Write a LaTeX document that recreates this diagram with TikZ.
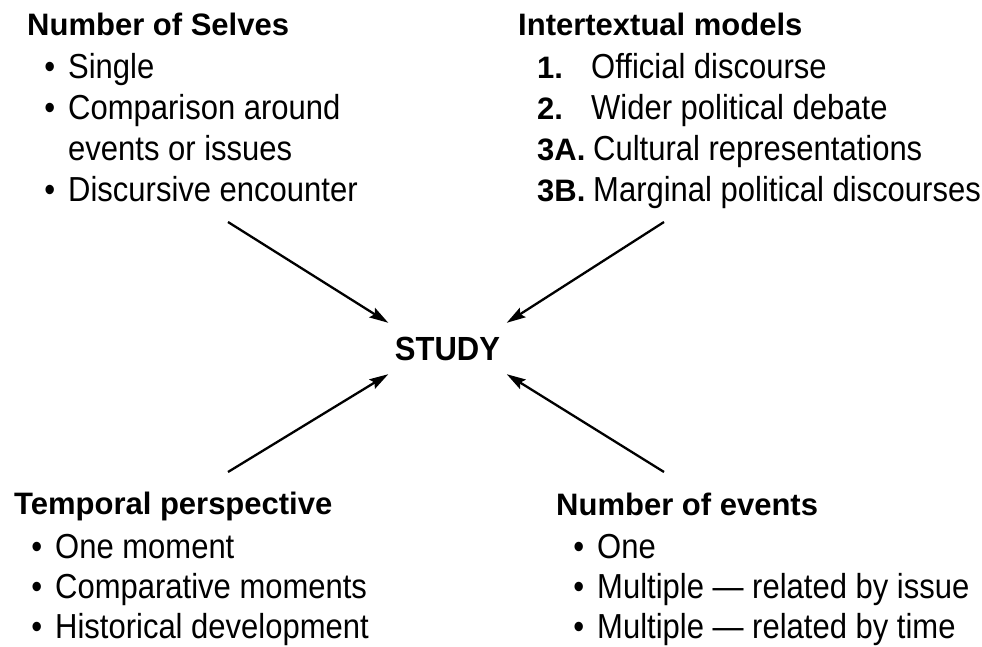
\documentclass[tikz,border=0pt]{standalone}
\usepackage{fontspec}
\usepackage{graphicx}
\setmainfont{Liberation Sans}
\usetikzlibrary{arrows.meta}
% bullet hung to the left of an item's first letter
\newcommand{\itembullet}{\llap{•\hspace{13pt}}}
% item text is set slightly taller than wide
\newcommand{\tallt}[1]{\scalebox{1}[1.12]{#1}}
\begin{document}
\begin{tikzpicture}[x=1pt,y=-1pt,
  line/.style={inner sep=0pt, anchor=base west},
  head/.style={line, font=\fontsize{31}{37}\selectfont\bfseries},
  entry/.style={line, font=\fontsize{31}{37}\selectfont},
  feed/.style={line width=2.3pt, -{Stealth[length=19pt,width=11pt,inset=3pt]}},
]
\useasboundingbox (0,0) rectangle (982,647);

% centre
\node[font=\fontsize{31}{37}\selectfont\bfseries, inner sep=0pt,
      minimum width=118pt, minimum height=51pt, text depth=0pt]
      (study) at (447.5,348.5) {\scalebox{1}[1.08]{STUDY}};

% top left: number of selves
\node[head]  (selves)  at (27,36)  {Number of Selves};
\node[entry] (selves1) at (68,79)  {\tallt{\itembullet Single}};
\node[entry] (selves2) at (68,120) {\tallt{\itembullet Comparison around}};
\node[entry] (selves3) at (68,161) {\tallt{events or issues}};
\node[entry] (selves4) at (68,202) {\tallt{\itembullet Discursive encounter}};

% top right: intertextual models
\node[head]  (models)  at (518,36) {Intertextual models};
\node[head]  (m1n) at (537,79)  {1.};
\node[entry] (m1)  at (591,79)  {\tallt{Official discourse}};
\node[head]  (m2n) at (537,120) {2.};
\node[entry] (m2)  at (591,120) {\tallt{Wider political debate}};
\node[head]  (m3n) at (537,161) {3A.};
\node[entry] (m3)  at (593,161) {\tallt{Cultural representations}};
\node[head]  (m4n) at (537,202) {3B.};
\node[entry] (m4)  at (593,202) {\tallt{Marginal political discourses}};

% bottom left: temporal perspective
\node[head]  (temporal)  at (14,514) {Temporal perspective};
\node[entry] (temporal1) at (55,558) {\tallt{\itembullet One moment}};
\node[entry] (temporal2) at (55,598) {\tallt{\itembullet Comparative moments}};
\node[entry] (temporal3) at (55,638) {\tallt{\itembullet Historical development}};

% bottom right: number of events
\node[head]  (events)  at (556,515) {Number of events};
\node[entry] (events1) at (597,558) {\tallt{\itembullet One}};
\node[entry] (events2) at (597,598) {\tallt{\itembullet Multiple — related by issue}};
\node[entry] (events3) at (597,638) {\tallt{\itembullet Multiple — related by time}};

% arrows into the centre
\coordinate (fromTL) at (228,222);
\coordinate (fromTR) at (664,222);
\coordinate (fromBL) at (228,472);
\coordinate (fromBR) at (664,472);
\draw[feed] (fromTL) -- (study.north west);
\draw[feed] (fromTR) -- (study.north east);
\draw[feed] (fromBL) -- (study.south west);
\draw[feed] (fromBR) -- (study.south east);
\end{tikzpicture}
\end{document}
